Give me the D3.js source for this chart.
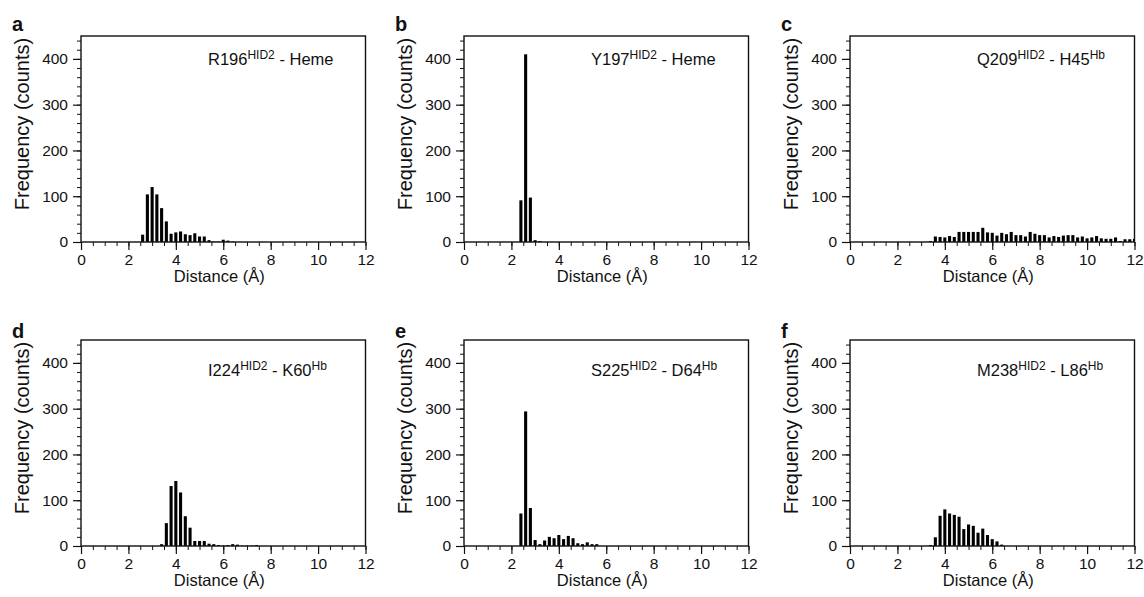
<!DOCTYPE html>
<html>
<head>
<meta charset="utf-8">
<script src="https://cdn.jsdelivr.net/npm/d3@7"></script>
<style>
  body { margin: 0; background: #fff; }
  text { font-family: "Liberation Sans", Arial, Helvetica, sans-serif; fill: #111; }
  .tick text { font-size: 15.5px !important; font-family: "Liberation Sans", Arial, sans-serif !important; }
</style>
</head>
<body>
<svg id="chart" width="1144" height="597"></svg>
<script>
// bin centres (Å), shared by every panel
const bins = [2.4, 2.6, 2.8, 3.0, 3.2, 3.4, 3.6, 3.8, 4.0, 4.2, 4.4, 4.6, 4.8, 5.0, 5.2, 5.4,
              5.6, 5.8, 6.0, 6.2, 6.4, 6.6, 6.8, 7.0, 7.2, 7.4, 7.6, 7.8, 8.0, 8.2, 8.4, 8.6,
              8.8, 9.0, 9.2, 9.4, 9.6, 9.8, 10.0, 10.2, 10.4, 10.6, 10.8, 11.0, 11.2, 11.4,
              11.6, 11.8, 12.0];

// counts per bin, one array per panel
const countsA = [0, 16, 104, 120, 104, 74, 45, 18, 21, 23, 17, 15, 19, 12, 12, 4,
                 1, 1, 5, 3, 1, 0, 0, 0, 0, 0, 0, 0, 0, 0, 0, 0,
                 0, 0, 0, 0, 0, 0, 0, 0, 0, 0, 0, 0, 0, 0, 0, 0, 0];
const countsB = [91, 410, 97, 4, 2, 0, 0, 0, 0, 0, 0, 0, 0, 0, 0, 0,
                 0, 0, 0, 0, 0, 0, 0, 0, 0, 0, 0, 0, 0, 0, 0, 0,
                 0, 0, 0, 0, 0, 0, 0, 0, 0, 0, 0, 0, 0, 0, 0, 0, 0];
const countsC = [0, 0, 0, 0, 0, 2, 12, 11, 10, 13, 11, 22, 22, 22, 22, 22,
                 31, 21, 20, 14, 20, 17, 22, 15, 15, 12, 22, 18, 15, 15, 10, 13,
                 11, 14, 15, 15, 10, 12, 8, 10, 13, 8, 7, 7, 10, 2, 6, 6, 7];
const countsD = [0, 0, 0, 0, 0, 4, 50, 131, 142, 117, 65, 40, 11, 11, 11, 5,
                 4, 2, 1, 2, 4, 3, 1, 1, 1, 2, 0, 0, 0, 0, 0, 0,
                 0, 0, 0, 0, 0, 0, 0, 0, 0, 0, 0, 0, 0, 0, 0, 0, 0];
const countsE = [71, 294, 83, 13, 4, 12, 20, 17, 24, 15, 22, 17, 6, 4, 8, 4,
                 4, 0, 0, 0, 0, 0, 0, 0, 0, 0, 0, 0, 0, 0, 0, 0,
                 0, 0, 0, 0, 0, 0, 0, 0, 0, 0, 0, 0, 0, 0, 0, 0, 0];
const countsF = [0, 0, 0, 0, 0, 2, 19, 66, 80, 71, 68, 64, 37, 47, 44, 29,
                 38, 24, 15, 10, 3, 0, 0, 0, 0, 0, 0, 0, 0, 0, 0, 0,
                 0, 0, 0, 0, 0, 0, 0, 0, 0, 0, 0, 0, 0, 0, 0, 0, 0];

const letters   = ["a", "b", "c", "d", "e", "f"];
const residues  = ["R196", "Y197", "Q209", "I224", "S225", "M238"];
const partners  = ["Heme", "Heme", "H45", "K60", "D64", "L86"];
const partnerSup = ["", "", "Hb", "Hb", "Hb", "Hb"];
const allCounts = [countsA, countsB, countsC, countsD, countsE, countsF];

const xTicks = [0, 2, 4, 6, 8, 10, 12];
const yTicks = [0, 100, 200, 300, 400];

// layout
const colLeft = [81, 464, 850],
      rowZero = [242, 546],
      letterBase = [31, 338],
      noteBase = [65, 376],
      plotW = 284.5,
      plotH = 206;

const svg = d3.select("#chart");

function styleTicks(a, w) {
  a.attr("font-size", 15.5).attr("font-family", null);
  a.select(".domain").remove();
  a.selectAll("line").attr("stroke", "#111").attr("stroke-width", w);
  a.selectAll("text").attr("fill", "#111");
}

letters.forEach((letter, i) => {
  const left = colLeft[i % 3],
        row  = Math.floor(i / 3),
        zero = rowZero[row],
        top  = zero - plotH;

  const x = d3.scaleLinear().domain([0, 12]).range([left, left + plotW]);
  const y = d3.scaleLinear().domain([0, 450]).range([zero, top]);

  const g = svg.append("g");

  g.append("clipPath").attr("id", "clip" + i)
    .append("rect")
    .attr("x", left).attr("y", top)
    .attr("width", plotW).attr("height", plotH);

  // bars
  const barW = x(0.13) - x(0);
  g.append("g")
    .attr("clip-path", `url(#clip${i})`)
    .selectAll("rect")
    .data(bins.map((b, k) => ({d: b, n: allCounts[i][k]})).filter(e => e.n > 0))
    .enter().append("rect")
    .attr("x", e => x(e.d) - barW / 2)
    .attr("y", e => y(e.n))
    .attr("width", barW)
    .attr("height", e => zero - y(e.n))
    .attr("fill", "#000");

  // minor ticks
  g.append("g")
    .attr("transform", `translate(0,${zero})`)
    .call(d3.axisBottom(x).tickValues(d3.range(0, 12.01, 0.5)).tickSize(4).tickFormat(""))
    .call(a => styleTicks(a, 1));
  g.append("g")
    .attr("transform", `translate(${left},0)`)
    .call(d3.axisLeft(y).tickValues(d3.range(0, 441, 20)).tickSize(4).tickFormat(""))
    .call(a => styleTicks(a, 1));

  // major ticks
  g.append("g")
    .attr("transform", `translate(0,${zero})`)
    .call(d3.axisBottom(x).tickValues(xTicks).tickSize(8).tickPadding(4))
    .call(a => styleTicks(a, 1.2));
  g.append("g")
    .attr("transform", `translate(${left},0)`)
    .call(d3.axisLeft(y).tickValues(yTicks).tickSize(8).tickPadding(5))
    .call(a => styleTicks(a, 1.2));

  // frame
  g.append("rect")
    .attr("x", left).attr("y", top)
    .attr("width", plotW).attr("height", plotH)
    .attr("fill", "none").attr("stroke", "#111").attr("stroke-width", 1.4);

  // axis titles
  g.append("text")
    .attr("x", left + plotW / 2 - 4)
    .attr("y", zero + 40)
    .attr("text-anchor", "middle")
    .style("font-size", "16.5px")
    .text("Distance (Å)");
  g.append("text")
    .attr("transform", `translate(${left - 52},${(top + zero) / 2 - 15}) rotate(-90)`)
    .attr("text-anchor", "middle")
    .style("font-size", "20px")
    .text("Frequency (counts)");

  // panel letter
  g.append("text")
    .attr("x", left - 69)
    .attr("y", letterBase[row])
    .style("font-size", "20px")
    .style("font-weight", "bold")
    .text(letter);

  // annotation with superscripts
  const note = g.append("text")
    .attr("x", left + 127)
    .attr("y", noteBase[row])
    .style("font-size", "16.5px");
  note.append("tspan").text(residues[i]);
  note.append("tspan").style("font-size", "12px").attr("dy", -6).text("HID2");
  note.append("tspan").attr("dy", 6).text(" - " + partners[i]);
  if (partnerSup[i]) {
    note.append("tspan").style("font-size", "12px").attr("dy", -6).text(partnerSup[i]);
  }
});
</script>
</body>
</html>
